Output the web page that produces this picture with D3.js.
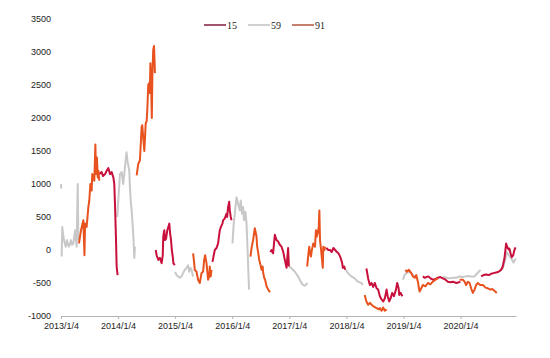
<!DOCTYPE html>
<html><head><meta charset="utf-8">
<script src="https://cdn.jsdelivr.net/npm/d3@7"></script>
<style>body{margin:0;background:#fff}svg{display:block}</style>
</head><body>
<svg id="chart" width="550" height="358"></svg>
<script>
const seriesNames = ["15", "59", "91"];
const seriesColors = ["#c8103c", "#c8c8c8", "#e8521e"];
const legendColors = ["#8a2a48", "#c4c4c4", "#b8604a"];
const yTicks = [-1000, -500, 0, 500, 1000, 1500, 2000, 2500, 3000, 3500];
const xTickDates = ["2013-01-04","2014-01-04","2015-01-04","2016-01-04","2017-01-04","2018-01-04","2019-01-04","2020-01-04"];
const xTickLabels = ["2013/1/4","2014/1/4","2015/1/4","2016/1/4","2017/1/4","2018/1/4","2019/1/4","2020/1/4"];
const xDomain = ["2013-01-04", "2020-12-24"];

// series "15"
const s15 = [
 [["2013-09-04",1150],["2013-09-21",1180],["2013-09-30",1120],["2013-10-13",1150],["2013-10-23",1200],["2013-11-03",1240],["2013-11-14",1150],["2013-11-24",1180],["2013-12-05",1100],["2013-12-11",1000],["2013-12-16",650],["2013-12-22",150],["2013-12-26",-250],["2014-01-01",-380]],
 [["2014-09-02",0],["2014-09-08",-80],["2014-09-19",-150],["2014-09-29",-120],["2014-10-10",-200],["2014-10-17",-80],["2014-10-20",200],["2014-10-27",300],["2014-10-31",150],["2014-11-07",170],["2014-11-15",300],["2014-11-22",350],["2014-11-28",400],["2014-12-03",250],["2014-12-09",150],["2014-12-14",0],["2014-12-20",-100],["2014-12-24",-200],["2015-01-02",-230]],
 [["2015-08-31",-180],["2015-09-15",0],["2015-09-26",30],["2015-10-06",100],["2015-10-17",300],["2015-10-24",350],["2015-11-03",400],["2015-11-07",450],["2015-11-18",480],["2015-11-29",550],["2015-12-03",500],["2015-12-09",650],["2015-12-16",730],["2015-12-20",600],["2015-12-26",500],["2015-12-31",450]],
 [["2016-09-04",-30],["2016-09-12",0],["2016-09-22",-50],["2016-10-03",230],["2016-10-14",150],["2016-10-24",130],["2016-11-04",80],["2016-11-15",50],["2016-11-26",-30],["2016-12-06",-150],["2016-12-17",-270],["2016-12-21",-150],["2016-12-27",30],["2017-01-01",-250]],
 [["2017-08-29",30],["2017-09-10",0],["2017-09-21",0],["2017-10-02",-30],["2017-10-13",30],["2017-10-24",0],["2017-11-04",-30],["2017-11-14",-50],["2017-11-25",-100],["2017-12-02",-150],["2017-12-08",-200],["2017-12-12",-270],["2017-12-21",-250],["2017-12-27",-300]],
 [["2018-05-12",-280],["2018-05-23",-430],["2018-06-03",-530],["2018-06-14",-500],["2018-06-24",-560],["2018-07-05",-500],["2018-07-16",-580],["2018-07-26",-600],["2018-08-06",-700],["2018-08-17",-750],["2018-08-27",-780],["2018-09-07",-730],["2018-09-18",-600],["2018-09-25",-700],["2018-10-05",-780],["2018-10-14",-730],["2018-10-24",-650],["2018-11-04",-700],["2018-11-17",-600],["2018-11-25",-500],["2018-12-04",-580],["2018-12-08",-680],["2018-12-17",-650],["2018-12-28",-700]],
 [["2019-05-08",-400],["2019-05-19",-420],["2019-05-30",-410],["2019-06-13",-400],["2019-06-26",-430],["2019-07-11",-450],["2019-07-28",-440],["2019-08-12",-420],["2019-08-28",-410],["2019-09-13",-430],["2019-09-30",-450],["2019-10-15",-480],["2019-10-31",-490],["2019-11-16",-480],["2019-12-08",-500],["2019-12-25",-490],["2020-01-03",-480]],
 [["2020-05-15",-400],["2020-05-30",-380],["2020-06-16",-370],["2020-07-03",-380],["2020-07-18",-360],["2020-08-02",-350],["2020-08-19",-340],["2020-09-04",-330],["2020-09-20",-300],["2020-09-30",-250],["2020-10-11",-130],["2020-10-22",100],["2020-10-28",50],["2020-11-06",10],["2020-11-12",20],["2020-11-19",-50],["2020-11-27",-110],["2020-12-06",-80],["2020-12-14",0],["2020-12-21",40]]
];

// series "59"
const s59 = [
 [["2013-01-04",1000],["2013-01-06",930]],
 [["2013-01-08",-100],["2013-01-12",350],["2013-01-17",250],["2013-01-23",150],["2013-02-03",50],["2013-02-11",150],["2013-02-18",80],["2013-02-24",50],["2013-03-09",150],["2013-03-15",80],["2013-03-24",100],["2013-04-04",300],["2013-04-14",50],["2013-04-21",1000],["2013-04-25",150]],
 [["2013-12-30",500],["2014-01-16",1150],["2014-01-27",1180],["2014-02-06",1000],["2014-02-17",1250],["2014-02-27",1480],["2014-03-06",1340],["2014-03-17",1200],["2014-03-21",950],["2014-03-26",750],["2014-04-01",600],["2014-04-11",250],["2014-04-18",-120],["2014-04-22",50]],
 [["2015-01-04",-330],["2015-01-13",-380],["2015-01-23",-400],["2015-02-03",-420],["2015-02-14",-400],["2015-02-24",-350],["2015-03-07",-300],["2015-03-18",-270],["2015-03-28",-230],["2015-04-04",-330],["2015-04-13",-270],["2015-04-19",-300],["2015-04-29",-400]],
 [["2016-01-06",100],["2016-01-14",400],["2016-01-21",550],["2016-02-01",800],["2016-02-11",700],["2016-02-22",600],["2016-02-28",750],["2016-03-07",550],["2016-03-14",650],["2016-03-20",450],["2016-03-29",580],["2016-04-05",400],["2016-04-11",50],["2016-04-17",-350],["2016-04-21",-600]],
 [["2017-01-04",-250],["2017-01-19",-280],["2017-02-08",-330],["2017-03-01",-400],["2017-03-22",-500],["2017-04-02",-530],["2017-04-13",-540],["2017-04-24",-520],["2017-04-30",-500]],
 [["2017-12-31",-300],["2018-01-14",-350],["2018-02-05",-400],["2018-02-26",-430],["2018-03-19",-480],["2018-04-10",-500],["2018-04-20",-530]],
 [["2018-12-31",-450],["2019-01-11",-380],["2019-02-01",-330],["2019-02-23",-350],["2019-03-16",-400]],
 [["2019-09-13",-400],["2019-10-05",-420],["2019-10-26",-430],["2019-11-16",-420],["2019-12-08",-420],["2019-12-29",-400],["2020-01-19",-410],["2020-02-05",-400],["2020-02-20",-395],["2020-03-12",-400],["2020-04-03",-400],["2020-04-17",-360],["2020-04-30",-330],["2020-05-11",-300]],
 [["2020-09-10",-320],["2020-09-30",-280],["2020-10-16",-150],["2020-10-26",-30],["2020-11-08",-80],["2020-11-23",-130],["2020-12-08",-190],["2020-12-16",-150],["2020-12-24",-130]]
];

// series "91"
const s91 = [
 [["2013-04-29",100],["2013-05-12",300],["2013-05-27",450],["2013-06-03",-80],["2013-06-07",400],["2013-06-17",350],["2013-06-28",650],["2013-07-04",750],["2013-07-11",1000],["2013-07-19",900],["2013-07-23",1150],["2013-08-05",1050],["2013-08-12",1600],["2013-08-16",1150],["2013-08-22",1400],["2013-08-27",1100],["2013-08-31",1200],["2013-09-06",1050]],
 [["2014-05-03",1130],["2014-05-13",1300],["2014-05-24",1360],["2014-06-04",1870],["2014-06-08",1890],["2014-06-14",1700],["2014-06-21",1500],["2014-06-30",1920],["2014-07-06",1950],["2014-07-11",2170],["2014-07-16",2500],["2014-07-22",2530],["2014-07-26",2380],["2014-07-30",2830],["2014-08-04",2470],["2014-08-08",2000],["2014-08-12",2680],["2014-08-17",3030],["2014-08-22",3090],["2014-08-26",2830],["2014-08-28",2680]],
 [["2015-04-29",-50],["2015-05-04",-150],["2015-05-10",-300],["2015-05-21",-330],["2015-05-31",-450],["2015-06-11",-500],["2015-06-22",-350],["2015-07-02",-330],["2015-07-09",-150],["2015-07-15",-80],["2015-07-24",-200],["2015-07-30",-350],["2015-08-03",-450],["2015-08-10",-400],["2015-08-14",-250],["2015-08-20",-400],["2015-08-25",-300]],
 [["2016-04-30",-100],["2016-05-07",30],["2016-05-17",150],["2016-05-28",330],["2016-06-08",200],["2016-06-12",50],["2016-06-18",-30],["2016-06-25",-150],["2016-07-04",-230],["2016-07-10",-300],["2016-07-17",-250],["2016-07-21",-350],["2016-07-27",-420],["2016-08-02",-450],["2016-08-11",-550],["2016-08-22",-600],["2016-09-02",-640]],
 [["2017-04-28",-250],["2017-05-04",-100],["2017-05-11",50],["2017-05-15",-30],["2017-05-22",-100],["2017-05-28",0],["2017-06-06",100],["2017-06-17",50],["2017-06-23",300],["2017-06-28",200],["2017-07-04",250],["2017-07-11",350],["2017-07-15",600],["2017-07-19",150],["2017-07-26",0],["2017-08-01",-150],["2017-08-06",-270],["2017-08-09",50],["2017-08-16",0],["2017-08-22",50]],
 [["2018-05-01",-680],["2018-05-12",-780],["2018-05-23",-830],["2018-06-03",-800],["2018-06-14",-830],["2018-06-24",-850],["2018-07-16",-880],["2018-07-31",-900],["2018-08-06",-880],["2018-08-17",-920],["2018-08-27",-870],["2018-09-07",-920],["2018-09-18",-900]],
 [["2019-01-16",-300],["2019-01-26",-330],["2019-02-08",-300],["2019-02-23",-350],["2019-03-05",-400],["2019-03-18",-420],["2019-03-27",-380],["2019-04-06",-480],["2019-04-17",-630],["2019-04-28",-580],["2019-05-08",-530],["2019-05-24",-550],["2019-06-09",-500],["2019-06-25",-520],["2019-07-11",-480],["2019-07-28",-450],["2019-08-12",-430]],
 [["2019-12-29",-450],["2020-01-19",-450],["2020-01-30",-480],["2020-02-09",-530],["2020-02-20",-480],["2020-03-02",-500],["2020-03-12",-580],["2020-03-23",-650],["2020-04-03",-600],["2020-04-13",-530],["2020-04-24",-500],["2020-05-09",-530],["2020-05-26",-530],["2020-06-12",-570],["2020-06-27",-580],["2020-07-12",-600],["2020-07-25",-590],["2020-08-09",-620],["2020-08-23",-650]]
];

const parse = d3.timeParse("%Y-%m-%d");
const svg = d3.select("#chart");
const x = d3.scaleTime().domain(xDomain.map(parse)).range([61, 516]);
const y = d3.scaleLinear().domain([-1000, 3500]).range([316, 19]);

// Y axis labels
const yAxis = svg.append("g").attr("transform", "translate(54,0)")
  .call(d3.axisLeft(y).tickValues(yTicks).tickSize(0).tickPadding(3).tickFormat(d => d));
yAxis.select(".domain").remove();
yAxis.selectAll("text").attr("font-family", "Liberation Sans, Arial, sans-serif").attr("font-size", 9).attr("fill", "#222");

// X axis
const xAxis = svg.append("g").attr("transform", "translate(0,316)")
  .call(d3.axisBottom(x).tickValues(xTickDates.map(parse)).tickSize(3).tickSizeOuter(0).tickPadding(4)
    .tickFormat((d, i) => xTickLabels[i]));
xAxis.select(".domain").attr("stroke", "#b4b4b4").attr("stroke-width", 1.2);
xAxis.selectAll(".tick line").attr("stroke", "#b4b4b4");
xAxis.selectAll("text").attr("font-family", "Liberation Sans, Arial, sans-serif").attr("font-size", 9).attr("fill", "#222");

const line = d3.line().x(d => x(parse(d[0]))).y(d => y(d[1]));
const allSeries = [s15, s59, s91];
const drawOrder = [1, 0, 2];
drawOrder.forEach(si => {
  svg.append("g").selectAll("path").data(allSeries[si]).join("path")
    .attr("d", line).attr("fill", "none").attr("stroke", seriesColors[si])
    .attr("stroke-width", 2).attr("stroke-linejoin", "round");
});

// Legend
const legendX = [204, 248, 292];
seriesNames.forEach((n, i) => {
  svg.append("line").attr("x1", legendX[i]).attr("x2", legendX[i] + 22)
    .attr("y1", 25).attr("y2", 25).attr("stroke", legendColors[i]).attr("stroke-width", 1.6);
  svg.append("text").attr("x", legendX[i] + 23).attr("y", 28.5).text(n)
    .attr("font-family", "Liberation Serif, Times New Roman, serif").attr("font-size", 10).attr("fill", "#222");
});
</script>
</body></html>
